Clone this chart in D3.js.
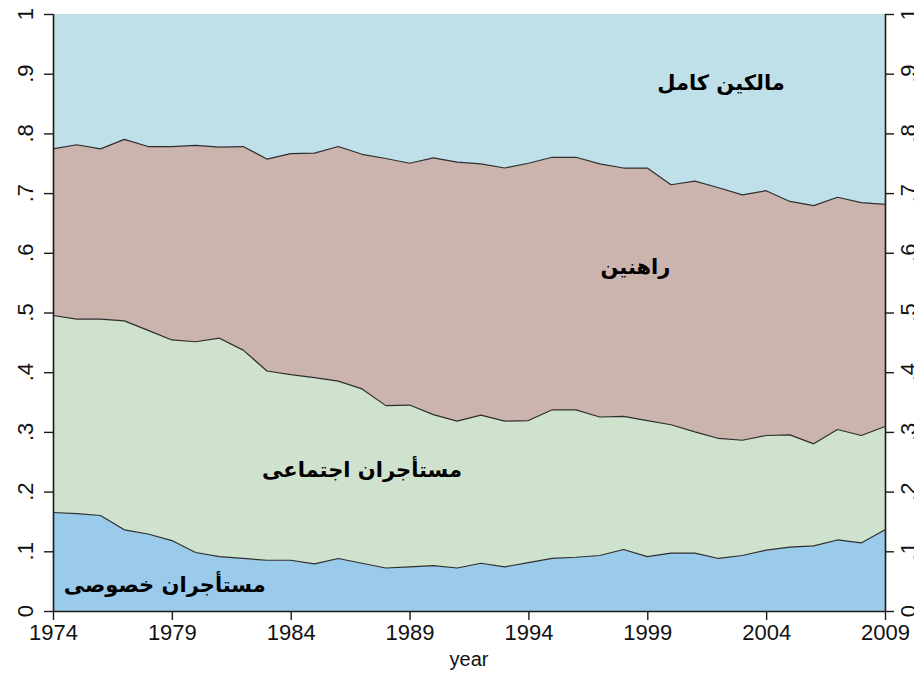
<!DOCTYPE html>
<html>
<head>
<meta charset="utf-8">
<script src="https://cdn.jsdelivr.net/npm/d3@7"></script>
<style>
  html, body { margin: 0; padding: 0; background: #fff; }
  svg { display: block; }
</style>
</head>
<body>
<svg id="chart" width="914" height="674"></svg>
<script>
// Housing tenure shares by year
const years = d3.range(1974, 2010);

const privateRenters = [0.165,0.163,0.160,0.136,0.129,0.118,0.098,0.091,0.088,0.085,0.085,0.079,0.088,0.080,0.072,0.074,0.076,0.072,0.080,0.074,0.081,0.088,0.090,0.093,0.103,0.091,0.097,0.097,0.088,0.093,0.102,0.107,0.109,0.119,0.114,0.136];
const socialRenters = [0.330,0.326,0.329,0.350,0.341,0.336,0.353,0.366,0.349,0.317,0.311,0.312,0.297,0.292,0.272,0.271,0.253,0.246,0.248,0.244,0.238,0.249,0.247,0.232,0.223,0.228,0.215,0.203,0.201,0.193,0.192,0.188,0.171,0.185,0.180,0.173];
const mortgagors = [0.279,0.292,0.285,0.304,0.308,0.324,0.329,0.320,0.341,0.355,0.370,0.376,0.393,0.393,0.414,0.405,0.430,0.434,0.421,0.424,0.431,0.423,0.423,0.424,0.416,0.423,0.402,0.420,0.420,0.411,0.410,0.391,0.399,0.389,0.390,0.372];
const outrightOwners = [0.226,0.219,0.226,0.210,0.222,0.222,0.220,0.223,0.222,0.243,0.234,0.233,0.222,0.235,0.242,0.250,0.241,0.248,0.251,0.258,0.250,0.240,0.240,0.251,0.258,0.258,0.286,0.280,0.291,0.303,0.296,0.314,0.321,0.307,0.316,0.319];

const seriesKeys = ["private", "social", "mortgage", "outright"];
const seriesNames = ["مستأجران خصوصی", "مستأجران اجتماعی", "راهنین", "مالكين كامل"];
const seriesColors = ["#9acbea", "#cfe2cd", "#cbb3ae", "#bfe0e9"];

const xTicks = [1974, 1979, 1984, 1989, 1994, 1999, 2004, 2009];
const yTicks = [0, 0.1, 0.2, 0.3, 0.4, 0.5, 0.6, 0.7, 0.8, 0.9, 1];
const yTickLabels = ["0", ".1", ".2", ".3", ".4", ".5", ".6", ".7", ".8", ".9", "1"];
const xTitle = "year";

// label anchor points in data units: [year, share]
const labelAnchors = [[1978.7, 0.031], [1987.0, 0.225], [1998.5, 0.565], [2002.1, 0.872]];

const table = years.map((yr, i) => ({
  year: yr,
  private: privateRenters[i],
  social: socialRenters[i],
  mortgage: mortgagors[i],
  outright: outrightOwners[i]
}));

const margin = { left: 53, right: 29, top: 14, bottom: 63 };
const W = 914, H = 674;

const svg = d3.select("#chart");

const x = d3.scaleLinear().domain([1974, 2009]).range([margin.left, W - margin.right]);
const y = d3.scaleLinear().domain([0, 1]).range([H - margin.bottom, margin.top]);

const stacked = d3.stack().keys(seriesKeys)(table);

const area = d3.area()
  .x(d => x(d.data.year))
  .y0(d => y(d[0]))
  .y1(d => y(d[1]));

const topLine = d3.line()
  .x(d => x(d.data.year))
  .y(d => y(d[1]));

// filled layers
svg.append("g").selectAll("path")
  .data(stacked)
  .join("path")
  .attr("d", area)
  .attr("fill", (d, i) => seriesColors[i])
  .attr("stroke", "none");

// boundaries between layers
svg.append("g").selectAll("path")
  .data(stacked.slice(0, 3))
  .join("path")
  .attr("d", topLine)
  .attr("fill", "none")
  .attr("stroke", "#2e2e2e")
  .attr("stroke-width", 1.2)
  .attr("stroke-linejoin", "round");

// axes
const axisColor = "#1a1a1a";
const tickFont = "Liberation Sans, Arial, Helvetica, sans-serif";

const xAxis = svg.append("g")
  .attr("transform", `translate(0,${H - margin.bottom})`)
  .call(d3.axisBottom(x).tickValues(xTicks).tickFormat(d3.format("d")).tickSize(9).tickPadding(4));

const yAxisL = svg.append("g")
  .attr("transform", `translate(${margin.left},0)`)
  .call(d3.axisLeft(y).tickValues(yTicks).tickFormat("").tickSize(9));

const yAxisR = svg.append("g")
  .attr("transform", `translate(${W - margin.right},0)`)
  .call(d3.axisRight(y).tickValues(yTicks).tickFormat("").tickSize(9));

[xAxis, yAxisL, yAxisR].forEach(g => {
  g.select(".domain").attr("stroke", axisColor).attr("stroke-width", 1.6);
  g.selectAll(".tick line").attr("stroke", axisColor).attr("stroke-width", 1.4);
  g.selectAll(".tick text")
    .attr("fill", "#111")
    .style("font-family", tickFont)
    .style("font-size", "22px");
});

// domains run exactly across the plot area
xAxis.select(".domain").attr("d", `M${margin.left},0.5H${W - margin.right}`);
yAxisL.select(".domain").attr("d", `M0.5,${margin.top}V${H - margin.bottom}`);
yAxisR.select(".domain").attr("d", `M0.5,${margin.top}V${H - margin.bottom}`);

xAxis.selectAll(".tick text").attr("dy", "0.72em").attr("y", 13);

// rotated y tick labels reading upwards, on both sides
function sideLabels(baselineX) {
  svg.append("g").selectAll("text")
    .data(yTicks)
    .join("text")
    .attr("transform", d => `translate(${baselineX},${y(d)}) rotate(-90)`)
    .attr("text-anchor", "middle")
    .attr("fill", "#111")
    .style("font-family", tickFont)
    .style("font-size", "22px")
    .text((d, i) => yTickLabels[i]);
}
sideLabels(margin.left - 20);
sideLabels(W - margin.right + 31);

// x-axis title
svg.append("text")
  .attr("x", (x(1974) + x(2009)) / 2)
  .attr("y", H - 8)
  .attr("text-anchor", "middle")
  .attr("fill", "#111")
  .style("font-family", tickFont)
  .style("font-size", "20px")
  .text(xTitle);

// series names inside their layers
svg.append("g").selectAll("text")
  .data(seriesNames)
  .join("text")
  .attr("x", (d, i) => x(labelAnchors[i][0]))
  .attr("y", (d, i) => y(labelAnchors[i][1]))
  .attr("text-anchor", "middle")
  .attr("direction", "rtl")
  .attr("fill", "#000")
  .style("font-family", "DejaVu Sans, sans-serif")
  .style("font-weight", "bold")
  .style("font-size", "21px")
  .text(d => d);
</script>
</body>
</html>
